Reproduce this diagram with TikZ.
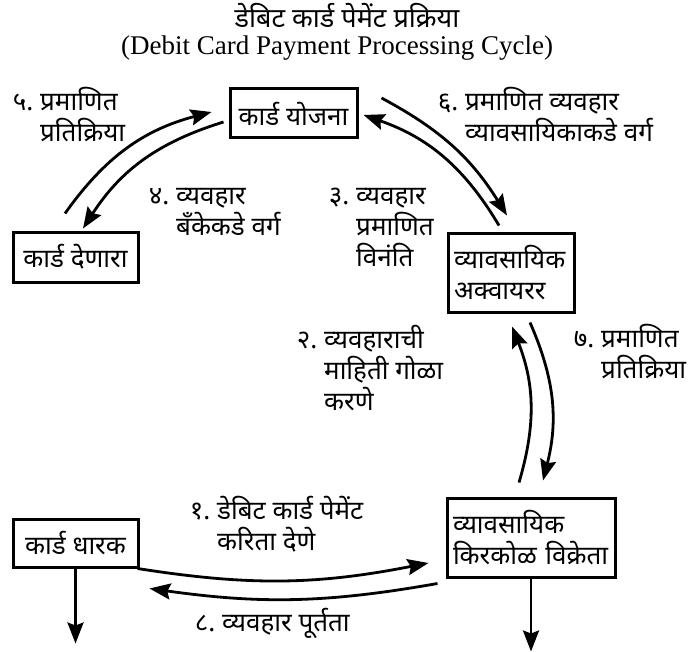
\documentclass[tikz,border=0pt]{standalone}
\usepackage{fontspec}
\setmainfont{Noto Sans}[Script=Devanagari]
\newfontfamily\enfont{Liberation Serif}
\usetikzlibrary{arrows.meta,positioning}

\newcommand{\hangnum}[1]{\llap{#1.\ }}

\begin{document}
\begin{tikzpicture}[x=1pt,y=-1pt,
  box/.style={draw, line width=3pt, inner xsep=6pt, inner ysep=0pt, font=\fontsize{26}{31}\selectfont},
  flow/.style={-{Stealth[length=21pt,width=16pt,inset=3pt]}, line width=2.8pt},
  lbl/.style={anchor=base west, inner sep=0pt, align=left, font=\fontsize{26}{31}\selectfont}]
\useasboundingbox (0,0) rectangle (695,652);
% title
\node[anchor=base, font=\fontsize{27}{27}\selectfont, inner sep=0pt] (title) at (347,28) {डेबिट कार्ड पेमेंट प्रक्रिया};
\node[anchor=base, font=\enfont\fontsize{27}{27}\selectfont, inner sep=0pt] (subtitle) at (337,55) {(Debit Card Payment Processing Cycle)};
% boxes
\node[box, minimum width=127, minimum height=49] (scheme) at (293.5,113.5) {कार्ड योजना};
\node[box, minimum width=125, minimum height=50] (issuer) at (75.5,257) {कार्ड देणारा};
\node[box, text width=114, minimum height=79, align=left] (acquirer) at (511,272.5) {व्यावसायिक\\अक्वायरर};
\node[box, minimum width=125, minimum height=48] (holder) at (75.5,543) {कार्ड धारक};
\node[box, text width=156, minimum height=79, align=left] (retailer) at (531,537.5) {व्यावसायिक\\किरकोळ विक्रेता};
\coordinate[below=75pt of holder] (holderout);
\coordinate[below=73pt of retailer] (retailerout);
% flows
\draw[flow] ([shift={(-2,0)}]holder.south east) to[bend right=10] ([shift={(-17,25.5)}]retailer.west);
\draw[flow] ([shift={(-8,5)}]retailer.south west) to[bend left=9] ([shift={(10,20)}]holder.south east);
\draw[flow] ([shift={(-12,-14)}]retailer.north) to[bend right=19] ([shift={(1,13)}]acquirer.south);
\draw[flow] ([shift={(19,9)}]acquirer.south) to[bend left=19] ([shift={(12,-16)}]retailer.north);
\draw[flow] ([shift={(-12,-6)}]acquirer.north) to[bend right=20] ([shift={(5,1.5)}]scheme.east);
\draw[flow] ([shift={(23,-15.5)}]scheme.east) to[bend left=15] ([shift={(-4,-16)}]acquirer.north);
\draw[flow] ([shift={(-5,8.5)}]scheme.west) to[bend right=20] ([shift={(7.5,-2)}]issuer.north);
\draw[flow] ([shift={(-10.5,-17)}]issuer.north) to[bend left=20] ([shift={(-17,-1.5)}]scheme.west);
\draw[flow] (holder) -- (holderout);
\draw[flow] (retailer) -- (retailerout);
% labels (anchored at the base of their last line)
\node[lbl] (l5) at (40,142) {\hangnum{५}प्रमाणित\\प्रतिक्रिया};
\node[lbl] (l4) at (176,235) {\hangnum{४}व्यवहार\\बँकेकडे वर्ग};
\node[lbl] (l3) at (356,266) {\hangnum{३}व्यवहार\\प्रमाणित\\विनंति};
\node[lbl] (l6) at (465,142) {\hangnum{६}प्रमाणित व्यवहार\\व्यावसायिकाकडे वर्ग};
\node[lbl] (l2) at (324,410) {\hangnum{२}व्यवहाराची\\माहिती गोळा\\करणे};
\node[lbl] (l7) at (601,378) {\hangnum{७}प्रमाणित\\प्रतिक्रिया};
\node[lbl] (l1) at (217,550) {\hangnum{१}डेबिट कार्ड पेमेंट\\करिता देणे};
\node[lbl] (l8) at (222,631) {\hangnum{८}व्यवहार पूर्तता};
\end{tikzpicture}
\end{document}
